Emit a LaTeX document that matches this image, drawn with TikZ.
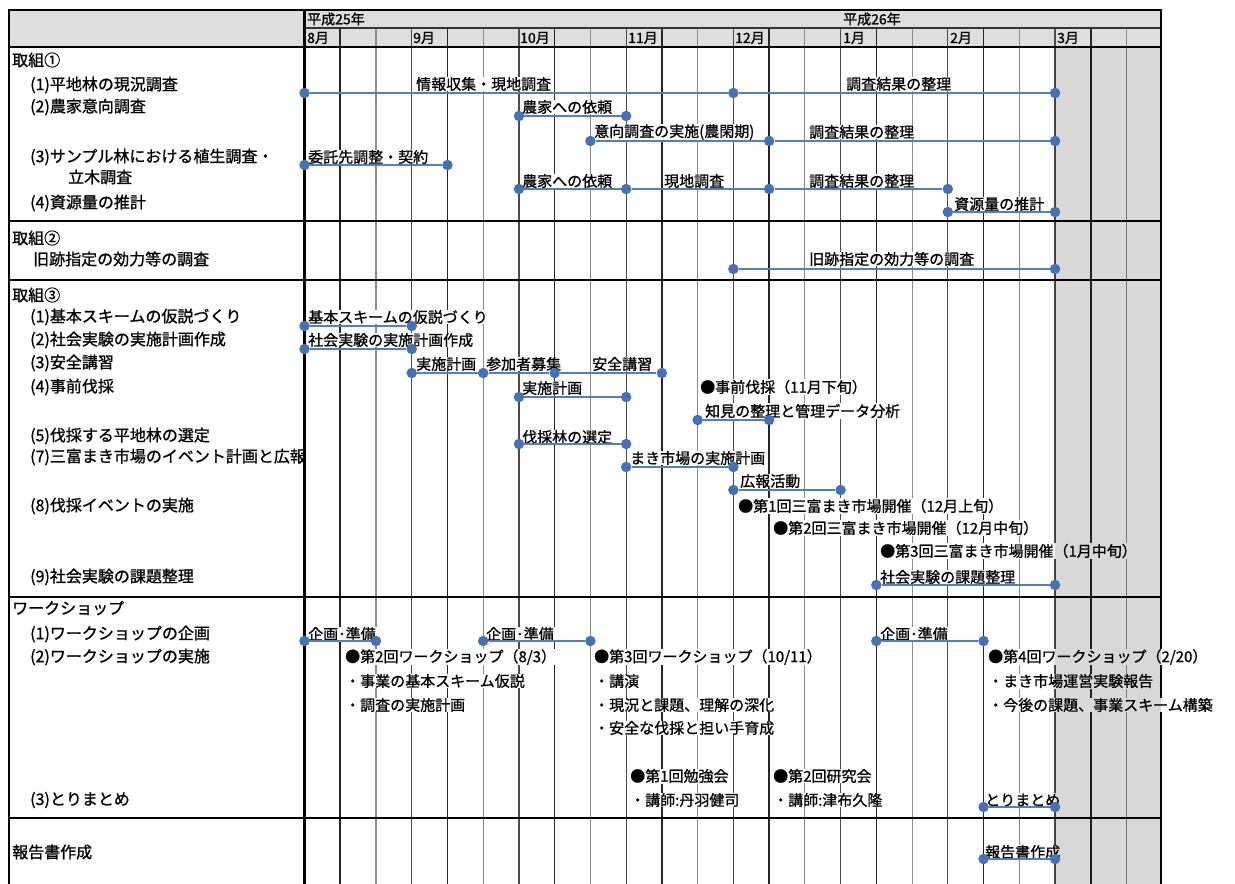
\documentclass[tikz,border=0pt]{standalone}
\usepackage{fontspec}
\setmainfont{Noto Sans CJK JP}[FakeBold=1.0]
\definecolor{hdrgray}{RGB}{222,222,222}
\definecolor{margray}{RGB}{216,216,216}
\definecolor{barblue}{RGB}{79,129,189}
\definecolor{dotblue}{RGB}{68,114,180}
\tikzset{
  lbl/.style={anchor=west, font=\fontsize{16}{16}\selectfont, inner sep=0pt},
  ct/.style={anchor=west, font=\fontsize{15}{15}\selectfont, fill=white, inner xsep=1pt, inner ysep=0.5pt},
  hd/.style={anchor=west, font=\fontsize{14}{14}\selectfont, inner sep=0pt},
  dot/.style={circle, fill=dotblue, inner sep=0pt, minimum size=10.5pt},
  bar/.style={draw=barblue, line width=1.8pt},
  thick frame/.style={line width=2.4pt, black},
  vdark/.style={line width=1.5pt, black!85},
  vmid/.style={line width=1.2pt, black!70},
  vlight/.style={line width=1.1pt, black!45}
}
\begin{document}
\begin{tikzpicture}[x=1pt,y=-1pt]
\useasboundingbox (0,0) rectangle (1235,884);
\fill[white] (0,0) rectangle (1235,884);
% header background
\fill[hdrgray] (9,10) rectangle (1161,47);
% grid lines
\foreach \k in {1,4,...,22} \draw[vdark] ({304.5+35.74*\k},28) -- ({304.5+35.74*\k},884);
\foreach \k in {3,6,...,21} \draw[vmid] ({304.5+35.74*\k},28) -- ({304.5+35.74*\k},884);
\foreach \k in {2,5,...,23} \draw[vlight] ({304.5+35.74*\k},28) -- ({304.5+35.74*\k},884);
\draw[line width=1.1pt, black!80] (304.5,28) -- (1161,28);
\draw[thick frame] (304.5,10) -- (304.5,884);
\draw[thick frame] (9,47) -- (1161,47);
\foreach \yy in {221,280,597,818} \draw[thick frame] (9,\yy) -- (1161,\yy);
\draw[thick frame] (9,884) -- (9,10) -- (1161,10) -- (1161,884);
% header text
\node[hd] (h25) at (307,19) {平成25年};
\node[hd] (h26) at (843,19) {平成26年};
\node[hd] (m8) at (307,38) {8月};
\node[hd] (m9) at (413,38) {9月};
\node[hd] (m10) at (520,38) {10月};
\node[hd] (m11) at (628,38) {11月};
\node[hd] (m12) at (735,38) {12月};
\node[hd] (m1) at (843,38) {1月};
\node[hd] (m2) at (950,38) {2月};
\node[hd] (m3) at (1057,38) {3月};
% left labels
\node[lbl] (l1) at (12,60) {取組①};
\node[lbl] (l2) at (30,85) {(1)平地林の現況調査};
\node[lbl] (l3) at (30,107) {(2)農家意向調査};
\node[lbl] (l4) at (30,157) {(3)サンプル林における植生調査・};
\node[lbl] (l5) at (68,177) {立木調査};
\node[lbl] (l6) at (30,203) {(4)資源量の推計};
\node[lbl] (l7) at (12,238) {取組②};
\node[lbl] (l8) at (33,259) {旧跡指定の効力等の調査};
\node[lbl] (l9) at (12,295) {取組③};
\node[lbl] (l10) at (30,317) {(1)基本スキームの仮説づくり};
\node[lbl] (l11) at (30,340) {(2)社会実験の実施計画作成};
\node[lbl] (l12) at (30,363) {(3)安全講習};
\node[lbl] (l13) at (30,387) {(4)事前伐採};
\node[lbl] (l14) at (30,436) {(5)伐採する平地林の選定};
\node[lbl] (l15) at (30,457) {(7)三富まき市場のイベント計画と広報};
\node[lbl] (l16) at (30,506) {(8)伐採イベントの実施};
\node[lbl] (l17) at (30,577) {(9)社会実験の課題整理};
\node[lbl] (l18) at (12,608) {ワークショップ};
\node[lbl] (l19) at (30,634) {(1)ワークショップの企画};
\node[lbl] (l20) at (30,657) {(2)ワークショップの実施};
\node[lbl] (l21) at (30,800) {(3)とりまとめ};
\node[lbl] (l22) at (12,852) {報告書作成};
% chart texts
\node[ct] (t1) at (415,84) {情報収集・現地調査};
\node[ct] (t2) at (845,84) {調査結果の整理};
\node[ct] (t3) at (521,107) {農家への依頼};
\node[ct] (t4) at (593,132) {意向調査の実施(農閑期)};
\node[ct] (t5) at (808,132) {調査結果の整理};
\node[ct] (t6) at (307,157) {委託先調整・契約};
\node[ct] (t7) at (521,181) {農家への依頼};
\node[ct] (t8) at (663,181) {現地調査};
\node[ct] (t9) at (808,181) {調査結果の整理};
\node[ct] (t10) at (953,204) {資源量の推計};
\node[ct] (t11) at (808,259) {旧跡指定の効力等の調査};
\node[ct] (t12) at (307,317) {基本スキームの仮説づくり};
\node[ct] (t13) at (307,340) {社会実験の実施計画作成};
\node[ct] (t14) at (415,364) {実施計画};
\node[ct] (t15) at (485,364) {参加者募集};
\node[ct] (t16) at (591,364) {安全講習};
\node[ct] (t17) at (521,388) {実施計画};
\node[ct] (t18) at (699,387) {●事前伐採（11月下旬）};
\node[ct] (t19) at (704,411) {知見の整理と管理データ分析};
\node[ct] (t20) at (521,437) {伐採林の選定};
\node[ct] (t21) at (629,458) {まき市場の実施計画};
\node[ct] (t22) at (739,481) {広報活動};
\node[ct] (t23) at (737,506) {●第1回三富まき市場開催（12月上旬）};
\node[ct] (t24) at (772,528) {●第2回三富まき市場開催（12月中旬）};
\node[ct] (t25) at (879,551) {●第3回三富まき市場開催（1月中旬）};
\node[ct] (t26) at (879,577) {社会実験の課題整理};
\node[ct] (t27) at (307,634) {企画･準備};
\node[ct] (t28) at (485,634) {企画･準備};
\node[ct] (t29) at (879,634) {企画･準備};
\node[ct] (t30) at (344,657) {●第2回ワークショップ（8/3）};
\node[ct] (t31) at (344,681) {・事業の基本スキーム仮説};
\node[ct] (t32) at (344,705) {・調査の実施計画};
\node[ct] (t33) at (593,657) {●第3回ワークショップ（10/11）};
\node[ct] (t34) at (593,681) {・講演};
\node[ct] (t35) at (593,705) {・現況と課題、理解の深化};
\node[ct] (t36) at (593,728) {・安全な伐採と担い手育成};
\node[ct] (t37) at (987,657) {●第4回ワークショップ（2/20）};
\node[ct] (t38) at (987,681) {・まき市場運営実験報告};
\node[ct] (t39) at (987,705) {・今後の課題、事業スキーム構築};
\node[ct] (t40) at (629,776) {●第1回勉強会};
\node[ct] (t41) at (629,800) {・講師:丹羽健司};
\node[ct] (t42) at (772,776) {●第2回研究会};
\node[ct] (t43) at (772,800) {・講師:津布久隆};
\node[ct] (t44) at (984,800) {とりまとめ};
\node[ct] (t45) at (984,852) {報告書作成};
% March shading (multiply keeps lines and text)
\fill[margray, blend mode=multiply] (1055,47) rectangle (1161,884);
% bars
\node[dot] (b1a) at (304.5,93) {};
\node[dot] (b1b) at (733.38,93) {};
\node[dot] (b1c) at (1055.04,93) {};
\node[dot] (b2a) at (518.94,116) {};
\node[dot] (b2b) at (626.16,116) {};
\node[dot] (b3a) at (590.42,141) {};
\node[dot] (b3b) at (769.12,141) {};
\node[dot] (b3c) at (1055.04,141) {};
\node[dot] (b4a) at (304.5,165) {};
\node[dot] (b4b) at (447.46,165) {};
\node[dot] (b5a) at (518.94,189) {};
\node[dot] (b5b) at (626.16,189) {};
\node[dot] (b5c) at (769.12,189) {};
\node[dot] (b5d) at (947.82,189) {};
\node[dot] (b6a) at (947.82,212) {};
\node[dot] (b6b) at (1055.04,212) {};
\node[dot] (b7a) at (733.38,269) {};
\node[dot] (b7b) at (1055.04,269) {};
\node[dot] (b8a) at (304.5,326) {};
\node[dot] (b8b) at (411.72,326) {};
\node[dot] (b9a) at (304.5,349) {};
\node[dot] (b9b) at (411.72,349) {};
\node[dot] (b10a) at (411.72,373) {};
\node[dot] (b10b) at (483.2,373) {};
\node[dot] (b10c) at (554.68,373) {};
\node[dot] (b10d) at (661.9,373) {};
\node[dot] (b11a) at (518.94,397) {};
\node[dot] (b11b) at (626.16,397) {};
\node[dot] (b12a) at (697.64,420) {};
\node[dot] (b12b) at (769.12,420) {};
\node[dot] (b13a) at (518.94,444) {};
\node[dot] (b13b) at (626.16,444) {};
\node[dot] (b14a) at (626.16,467) {};
\node[dot] (b14b) at (733.38,467) {};
\node[dot] (b15a) at (733.38,490) {};
\node[dot] (b15b) at (840.6,490) {};
\node[dot] (b16a) at (876.34,585) {};
\node[dot] (b16b) at (1055.04,585) {};
\node[dot] (b17a) at (304.5,641) {};
\node[dot] (b17b) at (375.98,641) {};
\node[dot] (b18a) at (483.2,641) {};
\node[dot] (b18b) at (590.42,641) {};
\node[dot] (b19a) at (876.34,641) {};
\node[dot] (b19b) at (983.56,641) {};
\node[dot] (b20a) at (983.56,807) {};
\node[dot] (b20b) at (1055.04,807) {};
\node[dot] (b21a) at (983.56,859) {};
\node[dot] (b21b) at (1055.04,859) {};
\draw[bar] (b1a) -- (b1b) -- (b1c);
\draw[bar] (b2a) -- (b2b);
\draw[bar] (b3a) -- (b3b) -- (b3c);
\draw[bar] (b4a) -- (b4b);
\draw[bar] (b5a) -- (b5b) -- (b5c) -- (b5d);
\draw[bar] (b6a) -- (b6b);
\draw[bar] (b7a) -- (b7b);
\draw[bar] (b8a) -- (b8b);
\draw[bar] (b9a) -- (b9b);
\draw[bar] (b10a) -- (b10b) -- (b10c) -- (b10d);
\draw[bar] (b11a) -- (b11b);
\draw[bar] (b12a) -- (b12b);
\draw[bar] (b13a) -- (b13b);
\draw[bar] (b14a) -- (b14b);
\draw[bar] (b15a) -- (b15b);
\draw[bar] (b16a) -- (b16b);
\draw[bar] (b17a) -- (b17b);
\draw[bar] (b18a) -- (b18b);
\draw[bar] (b19a) -- (b19b);
\draw[bar] (b20a) -- (b20b);
\draw[bar] (b21a) -- (b21b);
\end{tikzpicture}
\end{document}
